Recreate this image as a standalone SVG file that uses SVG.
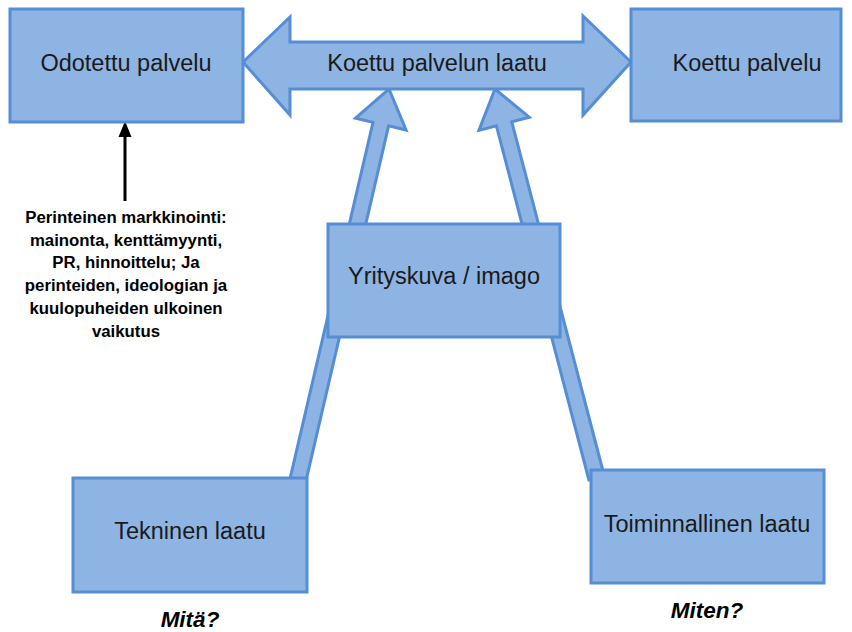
<svg xmlns="http://www.w3.org/2000/svg" width="852" height="632" viewBox="0 0 852 632">
  <style>
    .box { fill: #8EB4E3; stroke: #558ED5; stroke-width: 3; }
    .shape { fill: #8EB4E3; stroke: #558ED5; stroke-width: 3; stroke-linejoin: miter; }
    .lbl { font-family: "Liberation Sans", Arial, sans-serif; font-size: 23.5px; fill: #1a1a1a; text-anchor: middle; }
    .note { font-family: "Liberation Sans", Arial, sans-serif; font-size: 16.8px; font-weight: bold; fill: #000; text-anchor: middle; }
    .q { font-family: "Liberation Sans", Arial, sans-serif; font-size: 22.5px; font-weight: bold; font-style: italic; fill: #000; text-anchor: middle; }
  </style>
  <rect width="852" height="632" fill="#ffffff"/>

  <g id="connectors">
    <!-- upward block arrows feeding the perceived quality arrow -->
    <polygon id="arrow-tekninen" class="shape" points="389,89 406.1,130 388.6,125.9 304.6,486.8 289,483.2 373,122.3 355.5,118.2"/>
    <polygon id="arrow-toiminnallinen" class="shape" points="495,89 529.3,117.2 511.8,121.8 604.3,476 588.9,480 496.4,125.8 478.9,130.4"/>
    <!-- black pointer arrow -->
    <line x1="125" y1="201" x2="125" y2="134" stroke="#000" stroke-width="3"/>
    <polygon points="125,121 118.5,137 131.5,137" fill="#000"/>
  </g>

  <g id="koettu-palvelun-laatu">
    <polygon class="shape" points="243,62 290,17 290,42 583,42 583,16 631,62 583,115 583,89 290,89 290,115"/>
    <text class="lbl" x="437" y="71">Koettu palvelun laatu</text>
  </g>

  <g id="odotettu-palvelu">
    <rect class="box" x="10" y="9" width="233" height="113"/>
    <text class="lbl" x="126" y="71">Odotettu palvelu</text>
  </g>

  <g id="koettu-palvelu">
    <rect class="box" x="631" y="9" width="210" height="112"/>
    <text class="lbl" x="747" y="71">Koettu palvelu</text>
  </g>

  <g id="yrityskuva">
    <rect class="box" x="328" y="224" width="232" height="113"/>
    <text class="lbl" x="444" y="284">Yrityskuva / imago</text>
  </g>

  <g id="tekninen-laatu">
    <rect class="box" x="73" y="478" width="234" height="114"/>
    <text class="lbl" x="190" y="539">Tekninen laatu</text>
  </g>

  <g id="toiminnallinen-laatu">
    <rect class="box" x="591" y="470" width="233" height="113"/>
    <text class="lbl" x="707" y="532">Toiminnallinen laatu</text>
  </g>

  <g id="markkinointi-teksti">
    <text class="note" x="126" y="223">Perinteinen markkinointi:</text>
    <text class="note" x="126" y="246">mainonta, kenttämyynti,</text>
    <text class="note" x="126" y="268">PR, hinnoittelu; Ja</text>
    <text class="note" x="126" y="291">perinteiden, ideologian ja</text>
    <text class="note" x="126" y="314">kuulopuheiden ulkoinen</text>
    <text class="note" x="126" y="337">vaikutus</text>
  </g>

  <text class="q" x="190" y="627">Mitä?</text>
  <text class="q" x="707" y="618">Miten?</text>
</svg>
